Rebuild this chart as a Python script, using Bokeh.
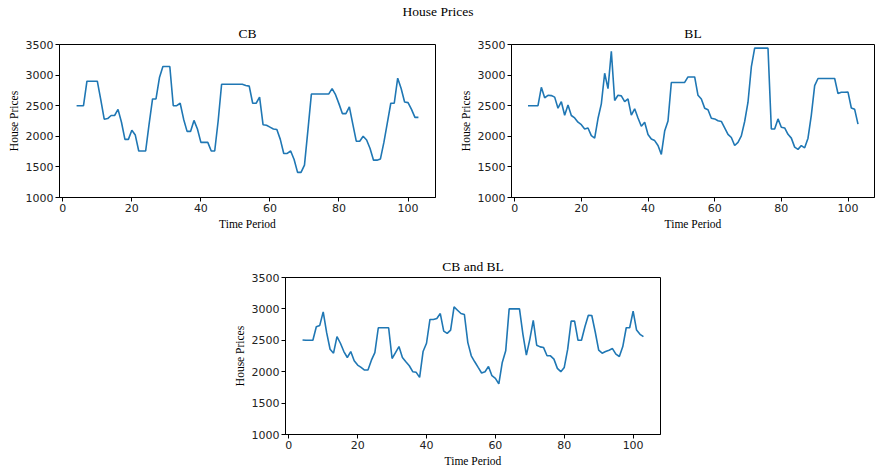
from bokeh.plotting import figure
from bokeh.layouts import column, row
from bokeh.models import Div, Spacer, Range1d, FixedTicker
from bokeh.embed import file_html
from bokeh.resources import INLINE

# ---------------- data ----------------
time_period = list(range(4, 104))

cb_prices = [
    2500, 2500, 2500, 2900, 2900, 2900, 2900, 2600, 2280, 2290,
    2340, 2340, 2440, 2230, 1950, 1950, 2100, 2020, 1760, 1760,
    1760, 2200, 2610, 2610, 2960, 3140, 3140, 3140, 2500, 2500,
    2540, 2280, 2080, 2080, 2260, 2120, 1900, 1900, 1900, 1760,
    1760, 2250, 2850, 2850, 2850, 2850, 2850, 2850, 2850, 2830,
    2820, 2540, 2540, 2640, 2190, 2180, 2150, 2120, 2110, 1950,
    1720, 1720, 1760, 1620, 1410, 1410, 1530, 2100, 2690, 2690,
    2690, 2690, 2690, 2690, 2780, 2680, 2530, 2370, 2370, 2480,
    2200, 1920, 1920, 2000, 1940, 1800, 1610, 1610, 1630, 1900,
    2220, 2540, 2540, 2950, 2780, 2560, 2550, 2440, 2310, 2310,
]

bl_prices = [
    2500, 2500, 2500, 2500, 2800, 2630, 2670, 2665, 2640, 2460,
    2565, 2345, 2510, 2340, 2300, 2230, 2190, 2120, 2135, 2010,
    1970, 2290, 2530, 3030, 2780, 3390, 2585, 2670, 2660, 2565,
    2610, 2345, 2450, 2300, 2165, 2230, 2030, 1955, 1930, 1850,
    1705, 2085, 2250, 2880, 2880, 2880, 2880, 2880, 2970, 2970,
    2970, 2670, 2610, 2460, 2435, 2295, 2284, 2253, 2242, 2137,
    2032, 1980, 1849, 1901, 2006, 2242, 2557, 3133, 3440, 3440,
    3440, 3440, 3440, 2120, 2120, 2284, 2148, 2137, 2032, 1970,
    1823, 1786, 1849, 1812, 1970, 2347, 2829, 2945, 2945, 2945,
    2945, 2945, 2945, 2698, 2720, 2720, 2722, 2462, 2441, 2200,
]

cb_bl_prices = [
    2505, 2500, 2500, 2500, 2716, 2737, 2953, 2621, 2358, 2295,
    2558, 2453, 2321, 2226, 2321, 2174, 2105, 2068, 2026, 2026,
    2184, 2305, 2700, 2700, 2700, 2700, 2210, 2305, 2400, 2226,
    2158, 2095, 2000, 1990, 1910, 2321, 2453, 2832, 2832, 2847,
    2926, 2647, 2611, 2663, 3032, 2979, 2926, 2911, 2463, 2253,
    2158, 2068, 1979, 2000, 2084, 1937, 1895, 1805, 2147, 2332,
    3000, 3000, 3000, 3000, 2595, 2263, 2516, 2816, 2421, 2395,
    2384, 2253, 2253, 2200, 2053, 2000, 2068, 2358, 2805, 2805,
    2500, 2500, 2716, 2900, 2895, 2632, 2342, 2295, 2321, 2342,
    2368, 2279, 2242, 2400, 2700, 2700, 2963, 2663, 2595, 2558,
]

x_ticks = [0, 20, 40, 60, 80, 100]
y_ticks = [1000, 1500, 2000, 2500, 3000, 3500]
suptitle = "House Prices"
panel_titles = ["CB", "BL", "CB and BL"]
x_label = "Time Period"
y_label = "House Prices"

LINE_COLOR = "#1f77b4"
SERIF = "Liberation Serif"
SANS = "DejaVu Sans"


def make_panel(title, ys, width, height, bl, br, bt, bb):
    p = figure(width=width, height=height, output_backend="svg",
               toolbar_location=None, tools="",
               x_range=Range1d(-0.95, 107.95), y_range=Range1d(1000, 3500),
               min_border_left=bl, min_border_right=br,
               min_border_top=bt, min_border_bottom=bb)
    p.line(time_period, ys, line_color=LINE_COLOR, line_width=1.6)
    p.title.text = title
    p.title.text_font = SERIF
    p.title.text_font_size = "13.5px"
    p.title.text_font_style = "normal"
    p.title.align = "center"
    p.title.text_color = "black"
    p.title.standoff = 7
    p.xgrid.visible = False
    p.ygrid.visible = False
    p.outline_line_color = "black"
    p.outline_line_width = 1
    p.outline_line_alpha = 1
    p.background_fill_color = "white"
    p.border_fill_color = "white"
    p.xaxis.ticker = FixedTicker(ticks=x_ticks)
    p.yaxis.ticker = FixedTicker(ticks=y_ticks)
    for ax in (p.xaxis[0], p.yaxis[0]):
        ax.axis_line_color = "black"
        ax.major_tick_line_color = "black"
        ax.minor_tick_line_color = None
        ax.major_tick_in = 0
        ax.major_tick_out = 4
        ax.major_label_text_font = SANS
        ax.major_label_text_font_size = "11px"
        ax.major_label_text_color = "#222222"
        ax.major_label_standoff = 2
        ax.axis_label_text_font = SERIF
        ax.axis_label_text_font_size = "11.5px"
        ax.axis_label_text_font_style = "normal"
        ax.axis_label_text_color = "black"
        ax.axis_label_standoff = 3
    p.xaxis.axis_label = x_label
    p.yaxis.axis_label = y_label
    return p


p1 = make_panel(panel_titles[0], cb_prices, 456, 212, 59, 21, 19, 34)
p2 = make_panel(panel_titles[1], bl_prices, 420, 212, 54, 2, 19, 34)
p3 = make_panel(panel_titles[2], cb_bl_prices, 440, 237, 54, 10, 45, 34)

head = Div(text=suptitle, width=876, height=20, margin=0,
           styles={"text-align": "center", "font-family": SERIF,
                   "font-size": "13.5px", "line-height": "24px",
                   "color": "black"})

layout = column(head, row(p1, p2), row(Spacer(width=230, height=237), p3))

open("out.html", "w").write(file_html(layout, INLINE, title="House Prices"))
